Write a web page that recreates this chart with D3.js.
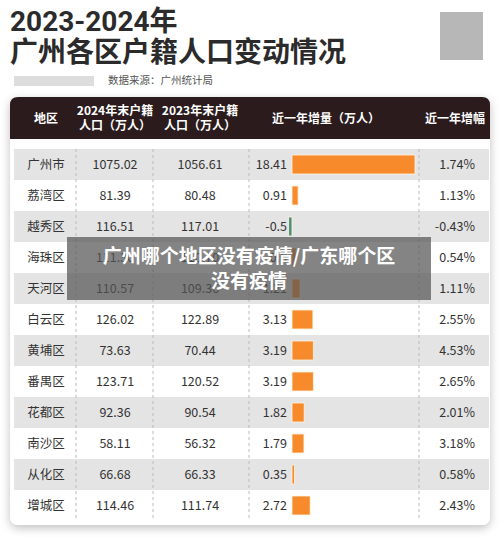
<!DOCTYPE html>
<html><head><meta charset="utf-8">
<script src="https://cdn.jsdelivr.net/npm/d3@7"></script>
<style>body{margin:0;background:#fff;font-family:"Noto Sans CJK SC","Noto Sans",sans-serif}</style>
</head><body><svg width="500" height="537"></svg>
<script>
var regions = ['广州市','荔湾区','越秀区','海珠区','天河区','白云区','黄埔区','番禺区','花都区','南沙区','从化区','增城区'];
var pop2024 = ['1075.02','81.39','116.51','111.30','110.57','126.02','73.63','123.71','92.36','58.11','66.68','114.46'];
var pop2023 = ['1056.61','80.48','117.01','110.70','109.36','122.89','70.44','120.52','90.54','56.32','66.33','111.74'];
var change = [18.41,0.91,-0.5,0.60,1.21,3.13,3.19,3.19,1.82,1.79,0.35,2.72];
var growth = ['1.74%','1.13%','-0.43%','0.54%','1.11%','2.55%','4.53%','2.65%','2.01%','3.18%','0.58%','2.43%'];
var headers = [['地区'],['2024年末户籍','人口（万人）'],['2023年末户籍','人口（万人）'],['近一年增量（万人）'],['近一年增幅']];

var svg = d3.select('svg');
var defs = svg.append('defs');
var f = defs.append('filter').attr('id','sh').attr('x','-10%').attr('y','-10%').attr('width','120%').attr('height','130%');
f.append('feDropShadow').attr('dx',0).attr('dy',3).attr('stdDeviation',5).attr('flood-opacity',0.25);

svg.append('text').attr('x',10).attr('y',31).attr('font-size',28).attr('font-weight',700).attr('fill','#2b2b2b')
    .attr('font-family','Roboto,"Noto Sans CJK SC"').text('2023-2024年');
svg.append('text').attr('x',10).attr('y',62).attr('font-size',28).attr('font-weight',700).attr('fill','#2b2b2b').text('广州各区户籍人口变动情况');
svg.append('text').attr('x',108).attr('y',84).attr('font-size',10.5).attr('fill','#555').text('数据来源：广州统计局');
svg.append('rect').attr('x',14).attr('y',76).attr('width',80).attr('height',10).attr('fill','#ddd');
svg.append('rect').attr('x',440).attr('y',12).attr('width',43).attr('height',48).attr('fill','#999').attr('opacity',0.7);

svg.append('rect').attr('x',10).attr('y',97).attr('width',480).attr('height',428).attr('rx',8)
    .attr('fill','#fff').attr('filter','url(#sh)');
svg.append('path').attr('d','M10,139 V105 Q10,97 18,97 H482 Q490,97 490,105 V139 Z').attr('fill','#2b1b1d');

var hx = [46,115,200,326,455];
headers.forEach(function(h,i){
    h.forEach(function(t,j){
        svg.append('text').attr('x',hx[i]).attr('y',h.length==1 ? 123 : 115+j*15)
            .attr('text-anchor','middle').attr('font-size',12).attr('font-weight',700).attr('fill','#fff').text(t);
    });
});

var y = d3.scaleBand().domain(regions).range([149,521]);
var x = d3.scaleLinear().domain([0,18.41]).range([292,415]);

var rows = svg.selectAll('g.row').data(regions).enter().append('g').attr('class','row');
rows.append('rect').attr('x',14).attr('width',475).attr('y',function(d){return y(d)}).attr('height',y.bandwidth())
    .attr('fill',function(d,i){return i%2==0 ? '#e4e4e4' : 'none'});

[76,153,249,419].forEach(function(lx){
    svg.append('line').attr('x1',lx).attr('x2',lx).attr('y1',149).attr('y2',521)
        .attr('stroke','#bbb').attr('stroke-dasharray','3,3');
});

function col(vals,xx,anchor){
    rows.append('text').attr('x',xx).attr('y',function(d){return y(d)+y.bandwidth()/2+4.5})
        .attr('text-anchor',anchor).attr('font-size',12.5).attr('fill','#333')
        .text(function(d,i){return vals[i]});
}
col(regions,46,'middle');
col(pop2024,115,'middle');
col(pop2023,200,'middle');
col(change.map(String),287,'end');
col(growth,475,'end');

rows.append('rect').attr('x',function(d,i){return x(Math.min(0,change[i]))})
    .attr('width',function(d,i){return Math.max(2.5,Math.abs(x(change[i])-x(0)))})
    .attr('y',function(d){return y(d)+6}).attr('height',y.bandwidth()-12)
    .attr('fill',function(d,i){return change[i]<0 ? '#4f8f7a' : '#f78b2c'})
    .attr('stroke','#fff3e0').attr('stroke-width',0.8);

svg.append('rect').attr('x',67).attr('y',237).attr('width',364).attr('height',63).attr('fill','#555').attr('opacity',0.72);
svg.append('text').attr('x',249).attr('y',263).attr('text-anchor','middle').attr('font-size',19).attr('font-weight',700).attr('fill','#fff').text('广州哪个地区没有疫情/广东哪个区');
svg.append('text').attr('x',249).attr('y',288).attr('text-anchor','middle').attr('font-size',19).attr('font-weight',700).attr('fill','#fff').text('没有疫情');
</script></body></html>
